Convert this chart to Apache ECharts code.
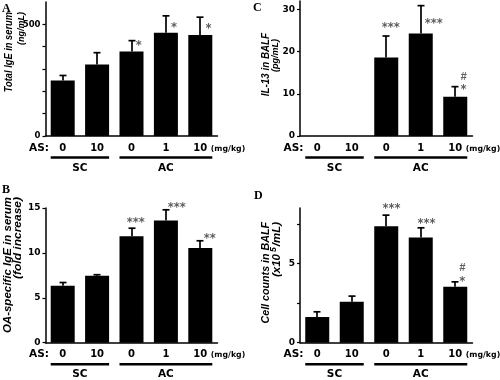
<!DOCTYPE html>
<html><head><meta charset="utf-8">
<script src="https://cdn.jsdelivr.net/npm/echarts@6/dist/echarts.min.js"></script>
<style>html,body{margin:0;padding:0;background:#fff}#c{width:500px;height:380px}</style>
</head><body><div id="c"></div>
<script>
// ---------- data ----------
const categories = ['0', '10', '0', '1', '10'];
const groupNames = ['SC', 'AC'];
const groupFirst = [0, 2];
const groupLast = [1, 4];
const doseLabel = 'AS:';
const unitLabel = '(mg/kg)';

const totalIgE = [249, 320, 378, 462, 452];
const totalIgESem = [22, 53, 49, 76, 80];
const totalIgESig = ['', '', '*', '*', '*'];
const totalIgETicks = [0, 100, 200, 300, 400, 500];
const totalIgELabels = [0, 500];

const oaIgE = [6.35, 7.45, 11.85, 13.6, 10.55];
const oaIgESem = [0.35, 0.12, 0.9, 1.2, 0.8];
const oaIgESig = ['', '', '***', '***', '**'];
const oaIgETicks = [0, 5, 10, 15];
const oaIgELabels = [0, 5, 10, 15];

const il13 = [0, 0, 18.6, 24.3, 9.3];
const il13Sem = [0, 0, 5.1, 6.6, 2.4];
const il13Sig = ['', '', '***', '***', '*'];
const il13Hash = ['', '', '', '', '#'];
const il13Ticks = [0, 10, 20, 30];
const il13Labels = [0, 10, 20, 30];

const cellCounts = [1.62, 2.58, 7.35, 6.64, 3.53];
const cellCountsSem = [0.33, 0.36, 0.7, 0.61, 0.31];
const cellCountsSig = ['', '', '***', '***', '*'];
const cellCountsHash = ['', '', '', '', '#'];
const cellTicks = [0, 2.5, 5, 7.5];
const cellLabels = [0, 5];

// ---------- layout ----------
const panels = [
  { letter: 'A', letterPos: [2, 9], mean: totalIgE, sem: totalIgESem, sig: totalIgESig, hash: null,
    max: 600, ticks: totalIgETicks, labels: totalIgELabels, tickFont: 8.5,
    grid: { left: 45.5, top: 2, width: 172, height: 134 },
    markOff: [null, null, [7.2, 2.8], [8, 8.8], [8.2, 8.9]], hashOff: null,
    titles: [ { text: 'Total IgE in serum', x: 9.5, y: 12, size: 9.3, sy: 1.15 },
              { text: '(ng/mL)', x: 21.5, y: 12, size: 9, sy: 1.05 } ] },
  { letter: 'B', letterPos: [2, 190], mean: oaIgE, sem: oaIgESem, sig: oaIgESig, hash: null,
    max: 15, ticks: oaIgETicks, labels: oaIgELabels, tickFont: 9,
    grid: { left: 45.5, top: 208, width: 172, height: 134.7 },
    markOff: [null, null, [4.3, -8.5], [10.8, -5.2], [9.5, -4.5]], hashOff: null,
    titles: [ { text: 'OA-specific IgE in serum', x: 7.5, y: 197, size: 11.5, sy: 0.95 },
              { text: '(fold increase)', x: 18, y: 197, size: 12, sy: 0.95 } ] },
  { letter: 'C', letterPos: [253, 7.5], mean: il13, sem: il13Sem, sig: il13Sig, hash: il13Hash,
    max: 32, ticks: il13Ticks, labels: il13Labels, tickFont: 9,
    grid: { left: 300, top: 1, width: 172.5, height: 135 },
    markOff: [null, null, [4.5, -11.3], [13, 15.3], [8.3, 0.8]], hashOff: [8.3, -9.7],
    titles: [ { text: 'IL-13 in BALF', x: 266.5, y: 33, size: 9.8, sy: 1.1 },
              { text: '(pg/mL)', x: 275.5, y: 39, size: 9, sy: 1.1 } ] },
  { letter: 'D', letterPos: [254, 196], mean: cellCounts, sem: cellCountsSem, sig: cellCountsSig, hash: cellCountsHash,
    max: 8.5, ticks: cellTicks, labels: cellLabels, tickFont: 9,
    grid: { left: 300, top: 208, width: 172.5, height: 134.7 },
    markOff: [null, null, [5.3, -8.8], [5.7, -6.4], [7, -2.5]], hashOff: [7, -13.9],
    titles: [ { text: 'Cell counts in BALF', x: 266, y: 222, size: 10.7, sy: 1 },
              { rich: true, x: 277, y: 222, size: 11.5, sy: 1 } ] }
];

const BOLD_SANS = 'DejaVu Sans';
const chart = echarts.init(document.getElementById('c'), null, { renderer: 'canvas' });

const grids = [], xAxes = [], yAxes = [], series = [];
panels.forEach((p, k) => {
  grids.push(Object.assign({ containLabel: false }, p.grid));
  xAxes.push({
    type: 'category', gridIndex: k, data: categories,
    axisLine: { show: true, lineStyle: { color: '#000', width: 1.5 } },
    axisTick: { show: false },
    axisLabel: { color: '#000', fontFamily: BOLD_SANS, fontWeight: 'bold', fontSize: 10, margin: 7, interval: 0 },
    splitLine: { show: false }
  });
  yAxes.push({
    type: 'value', gridIndex: k, min: 0, max: p.max,
    axisLine: { show: true, lineStyle: { color: '#000', width: 1.5 } },
    axisTick: { show: true, inside: false, length: 3, customValues: p.ticks, lineStyle: { color: '#000', width: 1.2 } },
    axisLabel: { customValues: p.labels, color: '#000', fontFamily: BOLD_SANS, fontWeight: 'bold', fontSize: p.tickFont, margin: 5 },
    splitLine: { show: false }
  });
  series.push({
    type: 'bar', xAxisIndex: k, yAxisIndex: k, data: p.mean, barWidth: 24,
    itemStyle: { color: '#000' }, silent: true, z: 2
  });
  series.push({
    type: 'custom', xAxisIndex: k, yAxisIndex: k, silent: true, z: 3,
    data: p.mean.map((m, i) => [i, m, m + p.sem[i]]),
    renderItem: function (params, api) {
      const i = api.value(0), m = api.value(1), t = api.value(2);
      if (!(t > m)) return { type: 'group', children: [] };
      const p0 = api.coord([i, m]), p1 = api.coord([i, t]);
      const x = Math.round(p0[0]);
      return { type: 'group', children: [
        { type: 'line', shape: { x1: x, y1: p0[1], x2: x, y2: p1[1] }, style: { stroke: '#000', lineWidth: 1.7 } },
        { type: 'line', shape: { x1: x - 3.5, y1: p1[1], x2: x + 3.5, y2: p1[1] }, style: { stroke: '#000', lineWidth: 1.7 } }
      ] };
    }
  });
  series.push({
    type: 'custom', xAxisIndex: k, yAxisIndex: k, silent: true, z: 4,
    data: p.mean.map((m, i) => [i, m + p.sem[i]]),
    renderItem: function (params, api) {
      const i = api.value(0);
      const c = api.coord([i, api.value(1)]);
      const children = [];
      if (p.sig[i] && p.markOff[i]) {
        children.push({ type: 'text', style: {
          text: p.sig[i], x: c[0] + p.markOff[i][0], y: c[1] + p.markOff[i][1] + 3,
          align: 'center', verticalAlign: 'middle', fill: '#5e5e5e',
          font: 'bold 11.5px "DejaVu Sans"' } });
      }
      if (p.hash && p.hash[i] && p.hashOff) {
        children.push({ type: 'text', style: {
          text: p.hash[i], x: c[0] + p.hashOff[0], y: c[1] + p.hashOff[1],
          align: 'center', verticalAlign: 'middle', fill: '#5e5e5e',
          font: 'italic bold 11px "Liberation Sans"' } });
      }
      return { type: 'group', children: children };
    }
  });
});

chart.setOption({ animation: false, grid: grids, xAxis: xAxes, yAxis: yAxes, series: series });

// ---------- annotations derived from axes ----------
const graphics = [];
panels.forEach((p, k) => {
  const base = chart.convertToPixel({ yAxisIndex: k }, 0);
  const cx = categories.map((c, i) => chart.convertToPixel({ xAxisIndex: k }, i));
  const half = 12;
  graphics.push({ type: 'text', silent: true, style: { text: doseLabel, x: p.grid.left + 3.5, y: base + 12,
    align: 'right', verticalAlign: 'middle', fill: '#000', font: 'bold 10.5px "DejaVu Sans"' } });
  graphics.push({ type: 'text', silent: true, style: { text: unitLabel, x: cx[cx.length - 1] + 10.5, y: base + 12.5,
    align: 'left', verticalAlign: 'middle', fill: '#000', font: 'bold 7.8px "DejaVu Sans"' } });
  groupNames.forEach((g, j) => {
    const x1 = cx[groupFirst[j]] - half, x2 = cx[groupLast[j]] + half;
    graphics.push({ type: 'line', silent: true, shape: { x1: x1, y1: base + 21.5, x2: x2, y2: base + 21.5 },
      style: { stroke: '#000', lineWidth: 2.5 } });
    graphics.push({ type: 'text', silent: true, style: { text: g, x: (x1 + x2) / 2, y: base + 32,
      align: 'center', verticalAlign: 'middle', fill: '#000', font: 'bold 10.5px "DejaVu Sans"' } });
  });
  graphics.push({ type: 'text', silent: true, style: { text: p.letter, x: p.letterPos[0], y: p.letterPos[1],
    align: 'left', verticalAlign: 'middle', fill: '#000', font: 'bold 12px "Liberation Serif"' } });
  p.titles.forEach(t => {
    if (t.rich) {
      graphics.push({ type: 'text', silent: true, x: t.x, y: t.y, rotation: Math.PI / 2, scaleY: t.sy, style: {
        text: '{a|(x10}{s|5}{a|/mL)}', align: 'right', verticalAlign: 'middle', fill: '#000',
        rich: { a: { font: 'italic bold ' + t.size + 'px "Liberation Sans"', fill: '#000' },
                s: { font: 'italic bold ' + (t.size * 0.75) + 'px "Liberation Sans"', fill: '#000', padding: [0, 1, 6, 2] } } } });
    } else {
      graphics.push({ type: 'text', silent: true, x: t.x, y: t.y, rotation: Math.PI / 2, scaleY: t.sy, style: {
        text: t.text, align: 'right', verticalAlign: 'middle', fill: '#000',
        font: 'italic bold ' + t.size + 'px "Liberation Sans"' } });
    }
  });
});
chart.setOption({ graphic: graphics });
</script>
</body></html>
